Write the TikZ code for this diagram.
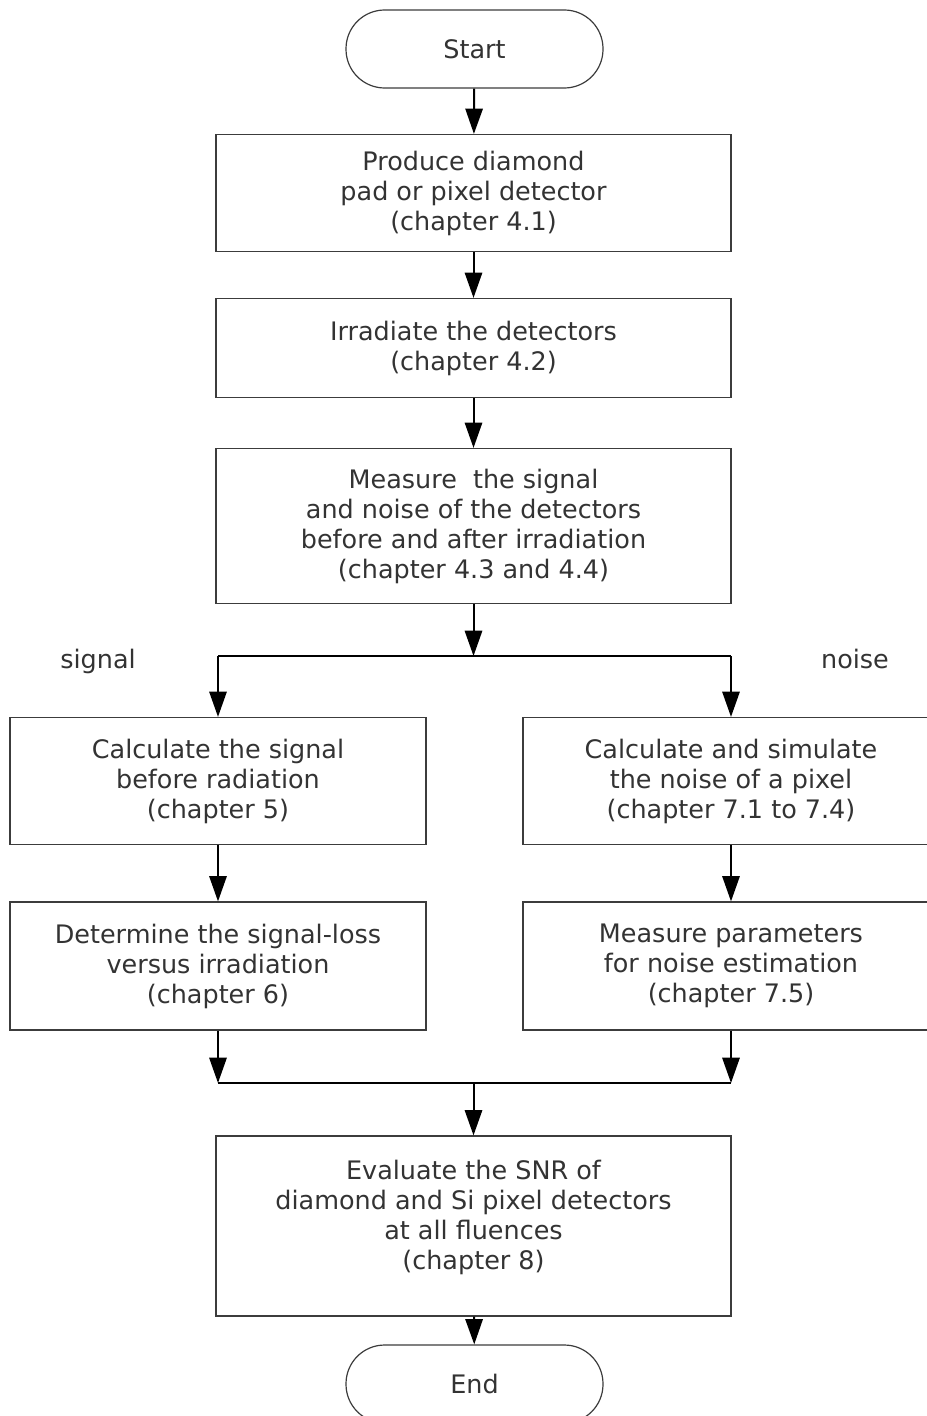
\documentclass[tikz,border=0pt]{standalone}
\usepackage{fontspec}
\setmainfont{DejaVu Sans}
\usetikzlibrary{arrows.meta,positioning,calc}
\definecolor{paper}{HTML}{FFFFFF}
\definecolor{ink}{HTML}{333333}
\definecolor{frame}{HTML}{3C3C3C}
\newcommand{\MainW}{386.25pt}
\newcommand{\SideW}{312pt}
\newcommand{\SplitY}{656}
\newcommand{\MergeY}{1083}

\begin{document}
\begin{tikzpicture}[
    x=0.75pt, y=-0.75pt,
    font=\fontsize{19.1}{22.5}\selectfont, text=ink,
    flow/.style={-{Triangle[length=19pt, width=13pt]}, line width=1.5pt, draw=black},
    wire/.style={-, line width=1.5pt, draw=black},
    stepbox/.style={draw=frame, line width=0.9pt, fill=paper, align=center, inner sep=4pt, minimum width=\MainW},
    sidebox/.style={stepbox, minimum width=\SideW},
    terminal/.style={draw=frame, line width=0.9pt, fill=paper, rounded corners=29pt, minimum width=192.75pt, minimum height=58.5pt},
    branch/.style={anchor=base},
  ]
\useasboundingbox (0,0) rectangle (926,1416);

% Main column: start, then the three common steps.
\node[terminal] (start) at (474.5, 49) {Start};
\node[stepbox, minimum height=87.75pt] (produce) at (473.5, 193)
  {Produce diamond\\pad or pixel detector\\(chapter 4.1)};
\node[stepbox, minimum height=74.25pt] (irradiate) at (473.5, 348)
  {Irradiate the detectors\\(chapter 4.2)};
\node[stepbox, minimum height=116.25pt] (measure) at (473.5, 526)
  {Measure\ \ the signal\\and noise of the detectors\\before and after irradiation\\(chapter 4.3 and 4.4)};

% The two branches.
\node[sidebox, minimum height=95.25pt] (calcsig) at (218, 781)
  {Calculate the signal\\before radiation\\(chapter 5)};
\node[sidebox, minimum height=96pt] (sigloss) at (218, 966)
  {Determine the signal-loss\\versus irradiation\\(chapter 6)};
\node[sidebox, minimum height=95.25pt] (calcnoise) at (731, 781)
  {Calculate and simulate\\the noise of a pixel\\(chapter 7.1 to 7.4)};
\node[sidebox, minimum height=96pt] (noisepar) at (731, 966)
  {Measure parameters\\for noise estimation\\(chapter 7.5)};

\node[branch] (siglabel) at (98, 668) {signal};
\node[branch] (noiselabel) at (855, 668) {noise};

% Joined again, then the end.
\node[stepbox, minimum height=135pt, text depth=17pt] (evaluate) at (473.5, 1226)
  {Evaluate the SNR of\\diamond and Si pixel detectors\\at all fluences\\(chapter 8)};
\node[terminal] (end) at (474.5, 1384) {End};

\coordinate (split) at (473.5, \SplitY);
\coordinate (merge) at (473.5, \MergeY);

\foreach \a/\b in {start/produce, produce/irradiate, irradiate/measure,
                   calcsig/sigloss, calcnoise/noisepar, evaluate/end}
  \draw[flow] (\a) -- (\b);

% Split into signal and noise.
\draw[flow] (measure.south) -- (split);
\draw[wire] (calcsig.north |- split) -- (calcnoise.north |- split);
\draw[flow] (calcsig.north |- split) -- (calcsig.north);
\draw[flow] (calcnoise.north |- split) -- (calcnoise.north);

% Merge back.
\draw[flow] (sigloss.south) -- (sigloss.south |- merge);
\draw[flow] (noisepar.south) -- (noisepar.south |- merge);
\draw[wire] (sigloss.south |- merge) -- (noisepar.south |- merge);
\draw[flow] (merge) -- (evaluate.north);

\end{tikzpicture}
\end{document}
